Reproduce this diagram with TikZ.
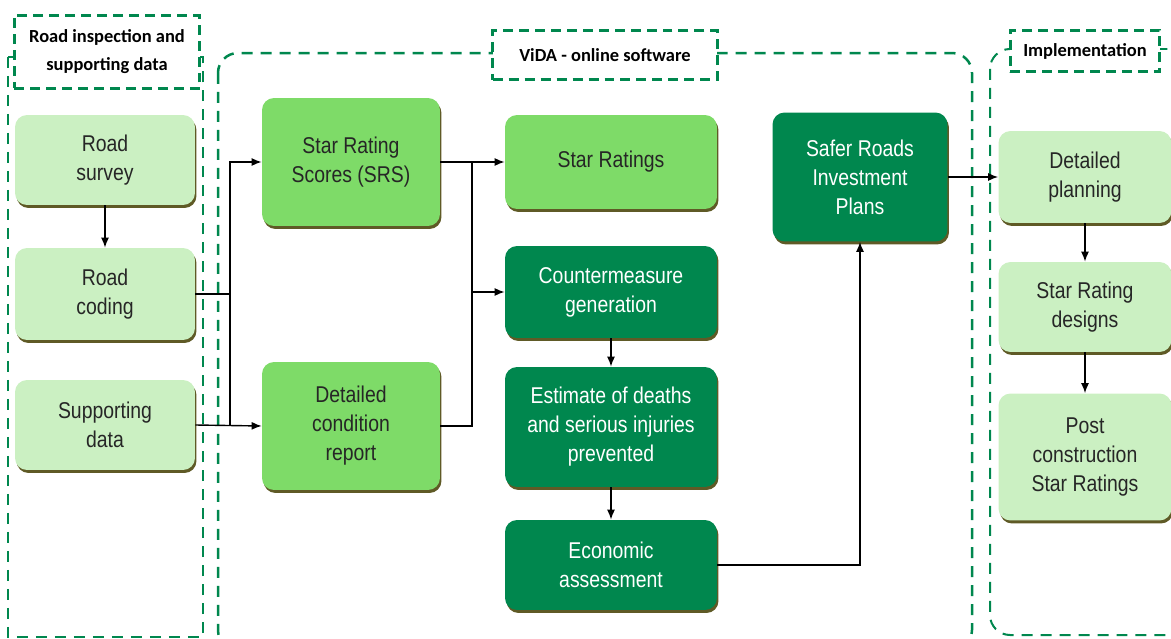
\documentclass[tikz,border=0pt]{standalone}
\usepackage{fontspec}
\setmainfont[FakeStretch=0.85]{Liberation Sans}
\newfontfamily\titlefont{Carlito}
\usetikzlibrary{shadows}
\usetikzlibrary{arrows.meta}
\definecolor{palegreen}{HTML}{CBF0C2}
\definecolor{midgreen}{HTML}{7EDB68}
\definecolor{darkgreen}{HTML}{00874E}
\definecolor{shadowolive}{HTML}{5F5A26}

\begin{document}
\begin{tikzpicture}[x=.02cm, y=-.02cm, >={Latex[length=.2cm,width=.16cm]},
        box/.style={rounded corners=.24cm, align=center, inner sep=0pt, text=black!85,
            font=\fontsize{13}{16.5}\selectfont,
            drop shadow={shadow xshift=.03cm, shadow yshift=-.06cm, fill=shadowolive, opacity=1}},
        pale/.style={box, fill=palegreen, minimum width=3.6cm, minimum height=1.8cm},
        mid/.style={box, fill=midgreen, minimum width=3.56cm, minimum height=2.56cm},
        deep/.style={box, fill=darkgreen, text=white, minimum width=4.24cm},
        group/.style={draw=darkgreen, line width=.04cm, dash pattern=on .22cm off .16cm},
        title/.style={draw=darkgreen, line width=.06cm, dash pattern=on .2cm off .12cm, fill=white,
            align=center, inner sep=0pt, font=\titlefont\bfseries\fontsize{10.5}{16}\selectfont},
        link/.style={line width=.8pt}]
            \clip (0,0) rectangle (1171,639);
            \draw[group] (8,57) rectangle (203,637);
            \draw[group, line width=.05cm, rounded corners=.4cm] (218,53) rectangle (972,650);
            \draw[group, rounded corners=.4cm] (990,49) rectangle (1190,635);
            \node[title, minimum width=3.72cm, minimum height=1.46cm] (tinspect) at (107,52) {Road inspection and\\supporting data};
            \node[title, minimum width=4.5cm, minimum height=1cm] (tvida) at (605,55) {ViDA - online software};
            \node[title, minimum width=3cm, minimum height=.84cm] (timpl) at (1085,51) {Implementation};

            \node[pale] (survey) at (105,160) {Road\\survey};
            \node[pale, minimum height=1.84cm] (coding) at (105,294) {Road\\coding};
            \node[pale] (supp) at (105,425) {Supporting\\data};
            \node[mid] (srs) at (351,162) {Star Rating\\Scores (SRS)};
            \node[mid] (dcr) at (351,426) {Detailed\\condition\\report};
            \node[mid, minimum width=4.24cm, minimum height=1.88cm] (stars) at (611,162) {Star Ratings};
            \node[deep, minimum height=1.84cm] (cm) at (611,292) {Countermeasure\\generation};
            \node[deep, minimum height=2.4cm] (est) at (611,427) {Estimate of deaths\\and serious injuries\\prevented};
            \node[deep, minimum height=1.8cm] (econ) at (611,565) {Economic\\assessment};
            \node[deep, minimum width=3.5cm, minimum height=2.58cm] (srip) at (860,177) {Safer Roads\\Investment\\Plans};
            \node[pale, minimum width=3.46cm, minimum height=1.84cm] (plan) at (1085,177) {Detailed\\planning};
            \node[pale, minimum width=3.46cm] (design) at (1085,307) {Star Rating\\designs};
            \node[pale, minimum width=3.46cm, minimum height=2.54cm] (post) at (1085,457) {Post\\construction\\Star Ratings};

            \coordinate (jleft) at (230,294);
            \coordinate (jmid) at (472,162);
            \draw[link, ->] (survey) -- (coding);
            \draw[link] (coding.east) -- (jleft);
            \draw[link, ->] (jleft) |- (srs.west);
            \draw[link] (jleft) -- (jleft |- dcr.west);
            \draw[link, ->] (supp.east) -- (dcr.west);
            \draw[link, ->] (srs.east) -- (stars.west);
            \draw[link] (dcr.east) -| (jmid);
            \draw[link, ->] (jmid |- cm.west) -- (cm.west);
            \draw[link, ->] (cm) -- (est);
            \draw[link, ->] (est) -- (econ);
            \draw[link, ->] (econ.east) -| (srip.south);
            \draw[link, ->] (srip.east) -- (plan.west);
            \draw[link, ->] (plan) -- (design);
            \draw[link, ->] (design) -- (post);
        \end{tikzpicture}
\end{document}
